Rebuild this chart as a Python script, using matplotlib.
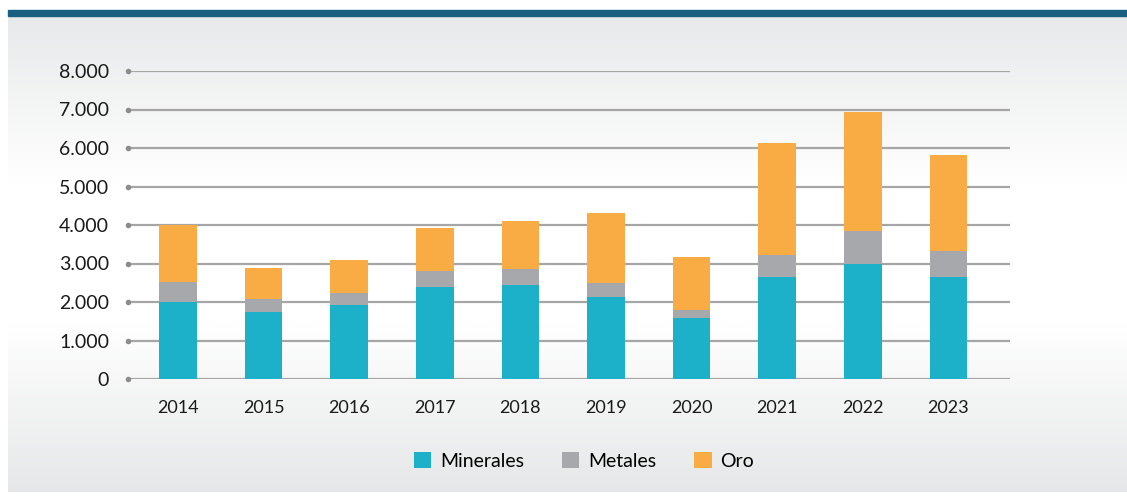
import numpy as np
import matplotlib.pyplot as plt
from matplotlib.colors import LinearSegmentedColormap
from matplotlib.patches import Rectangle
from matplotlib.ticker import FuncFormatter

plt.rcParams['font.family'] = ['Lato', 'DejaVu Sans']

years = ['2014', '2015', '2016', '2017', '2018', '2019', '2020', '2021', '2022', '2023']
minerales = [2000, 1740, 1920, 2390, 2440, 2130, 1580, 2650, 2990, 2650]
metales = [520, 340, 310, 410, 420, 360, 210, 570, 850, 670]
oro = [1480, 800, 860, 1120, 1240, 1820, 1380, 2910, 3090, 2500]

COLORS = {'Minerales': '#1cb0c9', 'Metales': '#a7a8ab', 'Oro': '#f9ac43'}
W, H = 1127, 496


def thousands(v, _):
    return f'{int(v):,}'.replace(',', '.')


def plot() -> None:
    fig = plt.figure(figsize=(W / 100, H / 100), dpi=100)
    fig.patch.set_facecolor('white')

    # background panel with vertical gradient
    bg = fig.add_axes([8 / W, 4 / H, 1 - 8 / W, (480 - 4) / H])
    bg.set_axis_off()
    cmap = LinearSegmentedColormap.from_list(
        'bg', [(0, '#e6e7e8'), (0.35, '#ffffff'), (0.65, '#ffffff'), (1, '#e8e9ea')])
    grad = np.linspace(0, 1, 256).reshape(-1, 1)
    bg.imshow(grad, aspect='auto', cmap=cmap, origin='lower', extent=[0, 1, 0, 1])
    fig.patches.append(Rectangle((8 / W, 1 - 16 / H), 1 - 8 / W, 6 / H,
                                 transform=fig.transFigure, color='#1b5f80', zorder=5))

    ax = fig.add_axes([128 / W, 1 - 379 / H, (1010 - 128) / W, (379 - 71) / H])
    ax.patch.set_alpha(0)
    x = np.arange(len(years))
    bottom2 = np.array(minerales) + np.array(metales)
    width = 0.44
    ax.bar(x, minerales, width, color=COLORS['Minerales'], label='Minerales', zorder=3)
    ax.bar(x, metales, width, bottom=minerales, color=COLORS['Metales'], label='Metales', zorder=3)
    ax.bar(x, oro, width, bottom=bottom2, color=COLORS['Oro'], label='Oro', zorder=3)

    ax.set_xlim(-0.584, 9.72)
    ax.set_ylim(0, 8000)
    ax.set_yticks(range(0, 8001, 1000))
    ax.yaxis.set_major_formatter(FuncFormatter(thousands))
    ax.grid(axis='y', color='#a6a6a6', linewidth=1.6, zorder=1)
    for s in ax.spines.values():
        s.set_visible(False)

    ax.set_xticks(x)
    ax.set_xticklabels(years)
    ax.tick_params(axis='x', length=0, pad=15, labelsize=13, colors='#1a1a1a')
    ax.tick_params(axis='y', pad=10, labelsize=14, colors='#1a1a1a')
    for t in ax.yaxis.get_ticklines():
        t.set_marker('o')
        t.set_markersize(4)
        t.set_markeredgewidth(0)
        t.set_color('#8c8c8c')

    fig.legend(loc='center', bbox_to_anchor=(584 / W, 1 - 461 / H), ncol=3,
               frameon=False, fontsize=14, handlelength=0.9, handleheight=0.9,
               handletextpad=0.45, columnspacing=1.95)

    plt.savefig('out.png', dpi=100)


if __name__ == '__main__':
    plot()
